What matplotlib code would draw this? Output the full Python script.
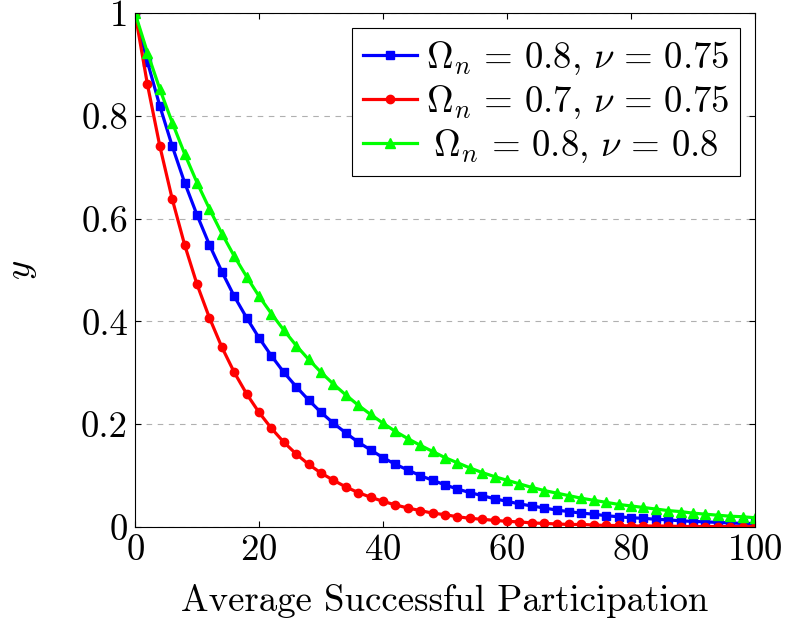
import matplotlib
matplotlib.use("Agg")
import matplotlib.pyplot as plt
from matplotlib.ticker import FuncFormatter

plt.rcParams["font.family"] = "cmr10"
plt.rcParams["mathtext.fontset"] = "cm"
plt.rcParams["axes.formatter.use_mathtext"] = True

x = list(range(0, 101, 2))

y_blue = [1.000, 0.905, 0.819, 0.741, 0.670, 0.607, 0.549, 0.497, 0.449, 0.407,
          0.368, 0.333, 0.301, 0.273, 0.247, 0.223, 0.202, 0.183, 0.165, 0.150,
          0.135, 0.122, 0.111, 0.100, 0.091, 0.082, 0.074, 0.067, 0.061, 0.055,
          0.050, 0.045, 0.041, 0.037, 0.033, 0.030, 0.027, 0.025, 0.022, 0.020,
          0.018, 0.017, 0.015, 0.014, 0.012, 0.011, 0.010, 0.009, 0.008, 0.007,
          0.007]
y_red = [1.000, 0.861, 0.741, 0.638, 0.549, 0.472, 0.407, 0.350, 0.301, 0.259,
         0.223, 0.192, 0.165, 0.142, 0.122, 0.105, 0.091, 0.078, 0.067, 0.058,
         0.050, 0.043, 0.037, 0.032, 0.027, 0.024, 0.020, 0.017, 0.015, 0.013,
         0.011, 0.010, 0.008, 0.007, 0.006, 0.005, 0.005, 0.004, 0.003, 0.003,
         0.002, 0.002, 0.002, 0.002, 0.001, 0.001, 0.001, 0.001, 0.001, 0.001,
         0.001]
y_green = [1.000, 0.923, 0.852, 0.787, 0.726, 0.670, 0.619, 0.571, 0.527, 0.487,
           0.449, 0.415, 0.383, 0.353, 0.326, 0.301, 0.278, 0.257, 0.237, 0.219,
           0.202, 0.186, 0.172, 0.159, 0.147, 0.135, 0.125, 0.115, 0.106, 0.098,
           0.091, 0.084, 0.077, 0.071, 0.066, 0.061, 0.056, 0.052, 0.048, 0.044,
           0.041, 0.038, 0.035, 0.032, 0.030, 0.027, 0.025, 0.023, 0.021, 0.020,
           0.018]

# extra spacing around "=" and after "," to get closer to TeX spacing;
# the last label gets a lead-in space so it sits centred in the column
labels = [r"$\Omega_n\,=\,0.8,\,\nu\,=\,0.75$",
          r"$\Omega_n\,=\,0.7,\,\nu\,=\,0.75$",
          r"$\>\Omega_n\,=\,0.8,\,\nu\,=\,0.8$"]

FS = 26.5

fig = plt.figure(figsize=(7.86, 6.26), dpi=100)
ax = fig.add_axes([0.1718, 0.1581, 0.7888, 0.8211])

ax.plot(x, y_blue, color="#0000ff", lw=2.3, marker="s", ms=5.5, label=labels[0])
ax.plot(x, y_red, color="#ff0000", lw=2.3, marker="o", ms=6, label=labels[1])
ax.plot(x, y_green, color="#00ff00", lw=2.3, marker="^", ms=6.5, label=labels[2])

ax.set_xlim(0, 100)
ax.set_ylim(0, 1)
ax.set_xticks([0, 20, 40, 60, 80, 100])
ax.set_yticks([0, 0.2, 0.4, 0.6, 0.8, 1])
ax.yaxis.set_major_formatter(FuncFormatter(lambda v, p: "%g" % v))
ax.tick_params(direction="in", top=True, right=True, length=4, width=0.8,
               labelsize=FS, pad=5)

ax.grid(axis="y", color="#b0b0b0", linestyle=(0, (5, 5)), lw=0.8)
ax.set_axisbelow(True)
for s in ax.spines.values():
    s.set_linewidth(0.8)

ax.set_xlabel("Average Successful Participation", fontsize=FS, labelpad=12)
ax.set_ylabel(r"$y$", fontsize=FS, labelpad=30)

leg = ax.legend(loc="upper right", fontsize=FS, frameon=True, fancybox=False,
                edgecolor="black", framealpha=1, handlelength=1.45,
                handletextpad=0.25, borderpad=0.3, labelspacing=0.16,
                borderaxespad=0.4, numpoints=1)
leg.get_frame().set_linewidth(0.8)

fig.savefig("out.png", dpi=100)
